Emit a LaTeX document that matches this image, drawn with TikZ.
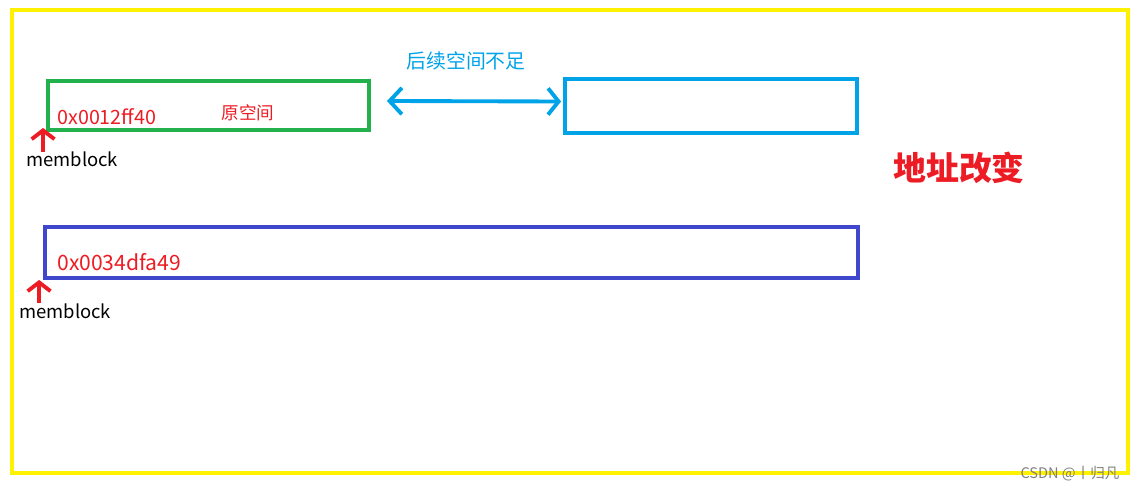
\documentclass[tikz,border=0pt]{standalone}
\usepackage{fontspec}
\setmainfont{Noto Sans CJK SC}
\usepackage{tikz}
\usetikzlibrary{arrows.meta,positioning}
\definecolor{frameyellow}{RGB}{255,242,0}
\definecolor{oldgreen}{RGB}{34,177,76}
\definecolor{newcyan}{RGB}{0,162,232}
\definecolor{movedblue}{RGB}{63,72,204}
\definecolor{addrred}{RGB}{237,28,36}
\begin{document}
\begin{tikzpicture}[
  block/.style={draw,line width=2.2pt,inner sep=0pt},
  addr/.style={text=addrred,inner sep=0pt,anchor=base west},
  ptr/.style={font=\fontsize{10.5}{12}\selectfont,inner sep=0pt,anchor=west},
  memarrow/.style={draw=addrred,line width=2.2pt,-{Straight Barb[length=5pt,width=13pt]}}
]
\useasboundingbox (0,0) rectangle (22.74,-9.82);
\draw[frameyellow,line width=2.2pt] (0.24,-0.20) rectangle (22.56,-9.46);
% the old block, the space after it, and the moved block
\node[block,draw=oldgreen,minimum width=6.42cm,minimum height=0.98cm] (old) at (4.17,-2.11) {};
\node[block,draw=newcyan,minimum width=5.84cm,minimum height=1.08cm] (next) at (14.22,-2.12) {};
\node[block,draw=movedblue,minimum width=16.26cm,minimum height=1.02cm] (moved) at (9.03,-5.05) {};
\node[addr,font=\fontsize{11.2}{13}\selectfont] (oldaddr) at (1.14,-2.5) {0x0012ff40};
\node[text=addrred,font=\fontsize{10}{12}\selectfont,inner sep=0pt] (oldlabel) at (4.96,-2.26) {原空间};
\node[addr,font=\fontsize{12}{14}\selectfont] (movedaddr) at (1.14,-5.42) {0x0034dfa49};
\node[text=newcyan,font=\fontsize{11.3}{13}\selectfont,inner sep=0pt] (lack) at (9.32,-1.22) {后续空间不足};
\node[text=addrred,font=\fontsize{18.7}{22}\selectfont\bfseries,inner sep=0pt] (change) at (19.18,-3.36) {地址改变};
\node[ptr] (mb1) at (0.52,-3.18) {memblock};
\node[ptr] (mb2) at (0.38,-6.22) {memblock};
\node[text=gray,font=\fontsize{8.3}{10}\selectfont,inner sep=0pt] (mark) at (21.4,-9.48) {CSDN @丨归凡};
\draw[newcyan,line width=2.2pt,{Straight Barb[length=7pt,width=15pt]}-{Straight Barb[length=6pt,width=15pt]}]
  ([shift={(0.32,0.09)}]old.east) -- ([shift={(-0.04,0.09)}]next.west);
\draw[memarrow] ([shift={(-0.06,-0.4)}]old.south west) -- ([shift={(-0.06,0.08)}]old.south west);
\draw[memarrow] ([shift={(-0.08,-0.46)}]moved.south west) -- ([shift={(-0.08,0)}]moved.south west);
\end{tikzpicture}
\end{document}
